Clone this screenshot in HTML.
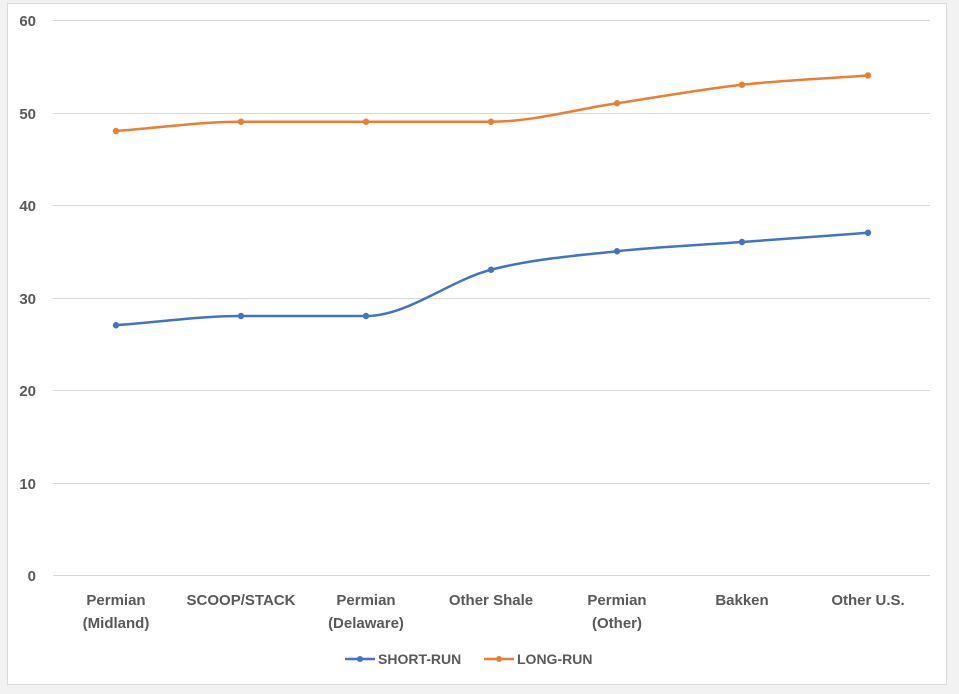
<!DOCTYPE html>
<html><head><meta charset="utf-8"><style>
html,body{margin:0;padding:0;background:#f2f2f2;}
svg{display:block;font-family:"Liberation Sans",Arial,sans-serif;}
</style></head><body>
<svg id="s" width="959" height="694" xmlns="http://www.w3.org/2000/svg">
<rect x="0" y="0" width="959" height="694" fill="#f2f2f2"/>
<rect x="7.5" y="3.5" width="939" height="681" fill="#fff" stroke="#d9d9d9"/>
<g stroke="#d9d9d9" stroke-width="1">
<line x1="53" x2="930" y1="20.5" y2="20.5"/>
<line x1="53" x2="930" y1="113.5" y2="113.5"/>
<line x1="53" x2="930" y1="205.5" y2="205.5"/>
<line x1="53" x2="930" y1="298.5" y2="298.5"/>
<line x1="53" x2="930" y1="390.5" y2="390.5"/>
<line x1="53" x2="930" y1="483.5" y2="483.5"/>
<line x1="53" x2="930" y1="575.5" y2="575.5"/>
</g>
<g fill="#595959" font-size="15" font-weight="bold" text-anchor="end">
<text x="36" y="26">60</text><text x="36" y="119">50</text><text x="36" y="211">40</text>
<text x="36" y="304">30</text><text x="36" y="396">20</text><text x="36" y="489">10</text><text x="36" y="581">0</text>
</g>
<g fill="#595959" font-size="15" font-weight="bold" text-anchor="middle">
<text x="116" y="605">Permian</text><text x="116" y="628">(Midland)</text>
<text x="241" y="605">SCOOP/STACK</text>
<text x="366" y="605">Permian</text><text x="366" y="628">(Delaware)</text>
<text x="491" y="605">Other Shale</text>
<text x="617" y="605">Permian</text><text x="617" y="628">(Other)</text>
<text x="742" y="605">Bakken</text>
<text x="868" y="605">Other U.S.</text>
</g>
<g id="series"></g>
<g font-size="14" font-weight="bold" fill="#595959">
<line x1="345" x2="375" y1="659" y2="659" stroke="#4472c4" stroke-width="2.5"/><circle cx="360" cy="659" r="3" fill="#4472c4"/>
<text x="378" y="664">SHORT-RUN</text>
<line x1="484" x2="514" y1="659" y2="659" stroke="#ed7d31" stroke-width="2.5"/><circle cx="499" cy="659" r="3" fill="#ed7d31"/>
<text x="517" y="664">LONG-RUN</text>
</g>
</svg>
<script>
var xs=[116,241,366,491,617,742,868];
function Y(v){return 575-9.25*v;}
function draw(vals,col){
var p=vals.map(function(v,i){return [xs[i],Y(v)];});
var n=p.length,s=[],m=[];
for(var i=0;i<n-1;i++)s.push((p[i+1][1]-p[i][1])/(p[i+1][0]-p[i][0]));
m[0]=s[0];m[n-1]=s[n-2];
for(var i=1;i<n-1;i++){m[i]=(s[i-1]*s[i]<=0)?0:(s[i-1]+s[i])/2;}
for(var i=0;i<n-1;i++){if(s[i]==0){m[i]=0;m[i+1]=0;}}
var d="M"+p[0][0]+","+p[0][1];
for(var i=0;i<n-1;i++){
var h=(p[i+1][0]-p[i][0])/3;
d+=" C"+(p[i][0]+h)+","+(p[i][1]+m[i]*h)+" "+(p[i+1][0]-h)+","+(p[i+1][1]-m[i+1]*h)+" "+p[i+1][0]+","+p[i+1][1];
}
var g=document.getElementById("series");
var ns="http://www.w3.org/2000/svg";
var path=document.createElementNS(ns,"path");
path.setAttribute("d",d);path.setAttribute("fill","none");path.setAttribute("stroke",col);path.setAttribute("stroke-width","2.5");
g.appendChild(path);
p.forEach(function(q){var c=document.createElementNS(ns,"circle");c.setAttribute("cx",q[0]);c.setAttribute("cy",q[1]);c.setAttribute("r","3.2");c.setAttribute("fill",col);g.appendChild(c);});
}
draw([27,28,28,33,35,36,37],"#4472c4");
draw([48,49,49,49,51,53,54],"#ed7d31");
</script>
</body></html>
